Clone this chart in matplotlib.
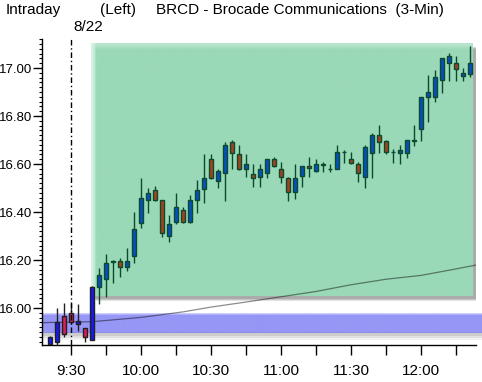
import numpy as np
import pandas as pd
import matplotlib
matplotlib.use('Agg')
import matplotlib.pyplot as plt
from matplotlib.patches import Rectangle
from matplotlib.transforms import offset_copy, blended_transform_factory

plt.rcParams['font.family'] = ['Liberation Sans', 'DejaVu Sans']

# 3-minute bars, BRCD 8/22
times = pd.date_range('2012-08-22 09:21', periods=61, freq='3min')
opens = [15.850, 15.860, 15.965, 15.978, 15.933, 15.915, 15.867, 16.089, 16.120, 16.190,
         16.197, 16.170, 16.218, 16.353, 16.450, 16.492, 16.450, 16.301, 16.360, 16.408,
         16.360, 16.450, 16.495, 16.621, 16.530, 16.561, 16.693, 16.640, 16.580, 16.557,
         16.545, 16.561, 16.620, 16.578, 16.540, 16.482, 16.551, 16.592, 16.572, 16.595,
         16.578, 16.580, 16.649, 16.620, 16.600, 16.545, 16.644, 16.721, 16.697, 16.651,
         16.644, 16.644, 16.695, 16.745, 16.880, 16.880, 16.950, 17.022, 17.019, 16.967,
         16.974]
highs = [15.885, 16.000, 16.022, 16.020, 16.015, 15.915, 16.090, 16.165, 16.225, 16.200,
         16.207, 16.249, 16.400, 16.542, 16.499, 16.508, 16.450, 16.388, 16.480, 16.422,
         16.471, 16.533, 16.642, 16.642, 16.579, 16.693, 16.700, 16.679, 16.642, 16.599,
         16.600, 16.620, 16.628, 16.608, 16.545, 16.600, 16.592, 16.630, 16.621, 16.610,
         16.599, 16.679, 16.658, 16.649, 16.610, 16.679, 16.728, 16.763, 16.700, 16.661,
         16.679, 16.700, 16.763, 16.880, 16.971, 16.992, 17.040, 17.061, 17.050, 17.001,
         17.092]
lows = [15.840, 15.845, 15.880, 15.935, 15.905, 15.860, 15.865, 16.017, 16.047, 16.106,
        16.130, 16.155, 16.186, 16.335, 16.397, 16.446, 16.297, 16.276, 16.349, 16.355,
        16.355, 16.397, 16.436, 16.539, 16.499, 16.447, 16.578, 16.575, 16.547, 16.505,
        16.505, 16.540, 16.589, 16.520, 16.447, 16.454, 16.505, 16.547, 16.568, 16.568,
        16.568, 16.578, 16.605, 16.599, 16.526, 16.499, 16.540, 16.644, 16.640, 16.605,
        16.599, 16.626, 16.675, 16.696, 16.776, 16.860, 16.897, 16.947, 16.947, 16.947,
        16.961]
closes = [15.879, 15.943, 15.890, 15.943, 15.946, 15.880, 16.089, 16.138, 16.186, 16.197,
          16.170, 16.198, 16.329, 16.457, 16.478, 16.450, 16.311, 16.349, 16.420, 16.360,
          16.450, 16.492, 16.540, 16.543, 16.571, 16.679, 16.644, 16.580, 16.599, 16.543,
          16.578, 16.620, 16.593, 16.545, 16.482, 16.540, 16.592, 16.582, 16.600, 16.600,
          16.578, 16.649, 16.649, 16.603, 16.561, 16.670, 16.721, 16.693, 16.651, 16.651,
          16.658, 16.700, 16.699, 16.880, 16.900, 16.961, 17.040, 17.050, 16.994, 16.980,
          17.019]

# slow moving average line
ma_times = pd.to_datetime(['2012-08-22 ' + t for t in
                           ['09:17', '09:39', '10:00', '10:18', '10:30', '10:45', '11:00',
                            '11:15', '11:30', '11:45', '12:00', '12:15', '12:24']])
ma_values = [15.939, 15.943, 15.961, 15.984, 16.004, 16.025, 16.047,
             16.069, 16.097, 16.120, 16.136, 16.163, 16.180]

# highlighted session range and previous-day band
box_time = pd.to_datetime(['2012-08-22 09:38:36', '2012-08-22 12:22:18'])
box_price = (16.05, 17.10)
band_price = (15.896, 15.979)

tick_times = pd.date_range('2012-08-22 09:30', '2012-08-22 12:15', freq='15min')
tick_labels = ['9:30', '', '10:00', '', '10:30', '', '11:00', '', '11:30', '', '12:00', '']


def to_min(t):
    # minutes after 9:00
    t = pd.DatetimeIndex(t)
    return np.asarray((t - t.normalize() - pd.Timedelta(hours=9)) / pd.Timedelta(minutes=1))


W, H = 482, 382
fig = plt.figure(figsize=(W / 100, H / 100), dpi=100)
ax = fig.add_axes([42 / W, 37 / H, 434 / W, 306 / H])

x = to_min(times)
o, h, l, c = map(np.asarray, (opens, highs, lows, closes))
bx = to_min(box_time)

# green box with shadow
for d, a in [(5, 0.18), (4, 0.22), (3, 0.25)]:
    tr = offset_copy(ax.transData, fig=fig, x=d, y=-d, units='dots')
    ax.add_patch(Rectangle((bx[0], box_price[0]), bx[1] - bx[0], box_price[1] - box_price[0],
                           transform=tr, facecolor='#606060', edgecolor='none', alpha=a, zorder=0.5))
base = np.array([154, 217, 184]) / 255
light = np.array([214, 240, 226]) / 255
img = np.tile(base, (60, 100, 1))
img[0, :] = (base + light) / 2
img[:, 0] = light
ax.imshow(img, extent=(bx[0], bx[1], box_price[0], box_price[1]), aspect='auto',
          interpolation='bilinear', zorder=1)

# blue band
btr = blended_transform_factory(ax.transAxes, ax.transData)
for d, a in [(7, 0.10), (5, 0.15), (3, 0.2)]:
    tr = offset_copy(btr, fig=fig, x=0, y=-d, units='dots')
    ax.add_patch(Rectangle((0, band_price[0]), 1.014, band_price[1] - band_price[0],
                           transform=tr, facecolor='#808080', edgecolor='none', alpha=a,
                           zorder=1.2, clip_on=False))
bmain = np.array([150, 150, 246]) / 255
btop = np.array([205, 205, 255]) / 255
bimg = np.tile(bmain, (20, 2, 1))
bimg[0] = btop
bimg[1] = (btop + bmain) / 2
bimg[-1] = np.array([140, 140, 230]) / 255
ax.imshow(bimg, extent=(0, 1.014, band_price[0], band_price[1]), aspect='auto',
          interpolation='bilinear', transform=btr, zorder=1.3, clip_on=False)

# moving average
ax.plot(to_min(ma_times), ma_values, color='black', alpha=0.45, lw=0.9, zorder=2)

# candles
inside = x > bx[0] + 1
up = c >= o
col = np.where(inside, np.where(up, '#0550c0', '#a3421f'), np.where(up, '#1818f0', '#d81e5b'))
edge = np.where(inside, '#0b4a2b', '#202020')
ax.vlines(x, l, h, colors=edge, lw=1.0, zorder=3)
ax.bar(x, np.abs(c - o), bottom=np.minimum(o, c), width=2.0, color=col,
       edgecolor=edge, linewidth=1.0, zorder=4)

ax.axvline(30, color='black', lw=1.0, ls=(0, (4, 2, 1, 2)), zorder=5)

ax.set_xlim(17.57, 203.57)
ax.set_ylim(15.846, 17.121)

# axes styling
for s in ['top', 'right']:
    ax.spines[s].set_visible(False)
ax.spines['left'].set_linewidth(1.0)
ax.spines['bottom'].set_linewidth(1.0)
ax.set_xticks(to_min(tick_times))
ax.set_xticklabels(tick_labels, fontsize=11)
yt = np.arange(16.0, 17.01, 0.2)
ax.set_yticks(yt)
ax.set_yticklabels(['%.2f' % v for v in yt], fontsize=9.5)
ax.set_yticks(np.arange(15.86, 17.12, 0.02), minor=True)
ax.tick_params(axis='x', direction='out', length=7.5, width=1, pad=6)
ax.tick_params(axis='y', which='major', direction='out', length=6.5, width=1, pad=0.5)
ax.tick_params(axis='y', which='minor', direction='out', length=2.2, width=0.8)

fig.text(6 / W, 1 - 10 / H, 'Intraday', fontsize=11, va='center', ha='left')
fig.text(100 / W, 1 - 10 / H, '(Left)', fontsize=11, va='center', ha='left')
fig.text(156 / W, 1 - 10 / H, 'BRCD - Brocade Communications  (3-Min)', fontsize=11,
         va='center', ha='left')
fig.text(73 / W, 1 - 27 / H, '8/22', fontsize=11, va='center', ha='left')

fig.savefig('out.png', dpi=100)
